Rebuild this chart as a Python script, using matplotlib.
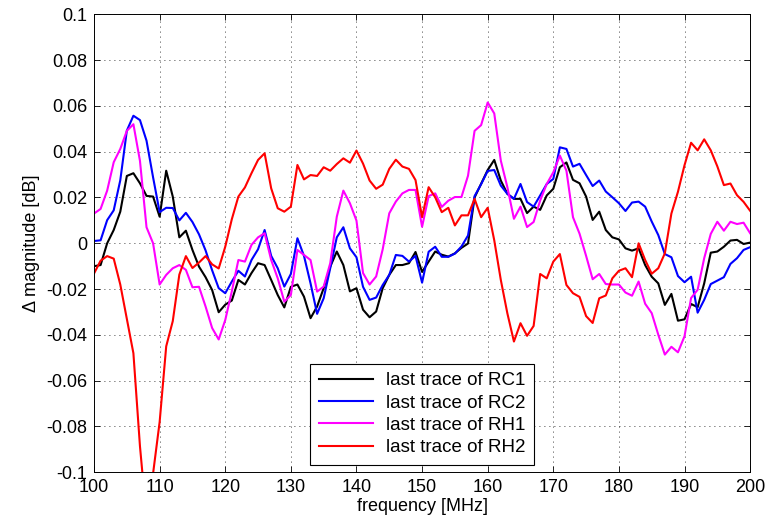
import numpy as np
import matplotlib
matplotlib.use('Agg')
import matplotlib.pyplot as plt
from matplotlib.ticker import FormatStrFormatter

# Frequency axis (1 MHz steps)
freq = np.arange(100, 201)

# Last traces, delta magnitude in dB
rc1 = [-0.010, -0.0095, 0.000, 0.0058, 0.0138, 0.0294, 0.0306, 0.0262, 0.0207, 0.0204,
       0.0116, 0.0317, 0.0204, 0.0026, 0.0055, -0.0029, -0.0102, -0.0148, -0.0204, -0.0301,
       -0.0268, -0.025, -0.016, -0.018, -0.013, -0.0087, -0.0095, -0.016, -0.0226, -0.028,
       -0.019, -0.018, -0.0233, -0.0327, -0.0276, -0.0196, -0.0102, -0.0036, -0.0095, -0.021,
       -0.0196, -0.029, -0.0323, -0.0298, -0.0196, -0.0138, -0.0095, -0.0095, -0.0087, -0.0038,
       -0.0125, -0.0080, -0.0036, -0.005, -0.0058, -0.0044, -0.002, -0.0001, 0.020, 0.026,
       0.032, 0.0364, 0.0274, 0.0216, 0.0194, 0.0194, 0.0132, 0.016, 0.0146, 0.0209,
       0.0238, 0.0332, 0.0353, 0.0277, 0.0262, 0.0204, 0.0102, 0.0138, 0.0058, 0.0026,
       0.0017, -0.0022, -0.0032, -0.0022, -0.0095, -0.0146, -0.0175, -0.0269, -0.0221, -0.0338,
       -0.0332, -0.0265, -0.0279, -0.0175, -0.0041, -0.0036, -0.0015, 0.0012, 0.0015, -0.0003,
       0.0003]

rc2 = [0.001, 0.0013, 0.0101, 0.0144, 0.0275, 0.0492, 0.0557, 0.0538, 0.0448, 0.0288,
       0.0136, 0.0155, 0.0154, 0.0100, 0.0133, 0.0093, 0.0039, -0.0031, -0.0118, -0.0196,
       -0.0218, -0.0167, -0.012, -0.0145, -0.0073, -0.0026, 0.0058, -0.0055, -0.0109, -0.0189,
       -0.0134, 0.0022, -0.0055, -0.0175, -0.0308, -0.024, -0.0109, 0.0026, 0.007, -0.0022,
       -0.0061, -0.019, -0.0247, -0.0237, -0.0182, -0.0138, -0.0051, -0.0055, -0.008, -0.0055,
       -0.0172, -0.0037, -0.0015, -0.0059, -0.0059, -0.0045, -0.0014, 0.0034, 0.0206, 0.0258,
       0.0316, 0.032, 0.0252, 0.0216, 0.0194, 0.0259, 0.018, 0.016, 0.0209, 0.0259,
       0.0281, 0.0419, 0.0412, 0.0335, 0.0347, 0.0298, 0.025, 0.0274, 0.0226, 0.0201,
       0.0175, 0.0141, 0.0178, 0.0182, 0.016, 0.0095, 0.0036, -0.0047, -0.0061, -0.0143,
       -0.017, -0.0146, -0.0303, -0.0247, -0.0178, -0.0163, -0.0148, -0.009, -0.0065, -0.0029,
       -0.0017]

rh1 = [0.013, 0.015, 0.023, 0.0354, 0.0412, 0.0491, 0.052, 0.036, 0.007, 0.0,
       -0.018, -0.0138, -0.0109, -0.0095, -0.0116, -0.0192, -0.019, -0.0276, -0.037, -0.042,
       -0.0335, -0.021, -0.0073, -0.008, -0.0007, 0.0026, 0.0044, -0.0073, -0.0153, -0.0255,
       -0.0226, -0.0029, -0.0051, -0.0073, -0.0211, -0.0189, -0.0087, 0.0116, 0.023, 0.0175,
       0.0099, -0.013, -0.018, -0.0145, -0.0026, 0.0131, 0.0182, 0.0218, 0.0233, 0.0233,
       0.0072, 0.0206, 0.0218, 0.0159, 0.0186, 0.0202, 0.0202, 0.0295, 0.0491, 0.0516,
       0.0615, 0.0567, 0.0361, 0.0245, 0.0107, 0.016, 0.0071, 0.0093, 0.0187, 0.0259,
       0.031, 0.0383, 0.0317, 0.0114, 0.0042, -0.0055, -0.0157, -0.0134, -0.0178, -0.018,
       -0.018, -0.0215, -0.0229, -0.0167, -0.0264, -0.0305, -0.0399, -0.0486, -0.0452, -0.0476,
       -0.0406, -0.0239, -0.0203, -0.0065, 0.0041, 0.0094, 0.0055, 0.0094, 0.0084, 0.009,
       0.0044]

rh2 = [-0.0132, -0.0076, -0.0056, -0.0067, -0.018, -0.033, -0.048, -0.0886, -0.12, -0.1005,
       -0.078, -0.045, -0.034, -0.0137, -0.0056, -0.0108, -0.0084, -0.0056, -0.0092, -0.011,
       -0.0015, 0.0105, 0.0204, 0.0244, 0.0306, 0.0364, 0.0393, 0.024, 0.0153, 0.0138,
       0.016, 0.0342, 0.0279, 0.0298, 0.0294, 0.0332, 0.0317, 0.0346, 0.0371, 0.0352,
       0.0405, 0.0348, 0.0274, 0.0238, 0.0256, 0.0325, 0.0365, 0.0335, 0.0325, 0.0276,
       0.0114, 0.0245, 0.0201, 0.0136, 0.0155, 0.0078, 0.0122, 0.0122, 0.0194, 0.0114,
       0.0155, 0.0013, -0.016, -0.0306, -0.0429, -0.0349, -0.0404, -0.0361, -0.0134, -0.0153,
       -0.008, -0.0047, -0.0182, -0.0218, -0.0234, -0.0318, -0.0348, -0.024, -0.0228, -0.0153,
       -0.012, -0.0109, -0.0148, 0.0, -0.0073, -0.0133, -0.0109, -0.0044, 0.013, 0.0225,
       0.0341, 0.0439, 0.0406, 0.0454, 0.0406, 0.0336, 0.0254, 0.0261, 0.021, 0.0181,
       0.0142]

labels = ['last trace of RC1', 'last trace of RC2', 'last trace of RH1', 'last trace of RH2']
colors = ['#000000', '#0000ff', '#ff00ff', '#ff0000']

plt.rcParams['font.family'] = ['Liberation Sans', 'DejaVu Sans']
plt.rcParams['font.size'] = 13

fig = plt.figure(figsize=(7.67, 5.27), dpi=100)
ax = fig.add_axes([0.1226, 0.1038, 0.8554, 0.8691])

for y, c, lab in zip([rc1, rc2, rh1, rh2], colors, labels):
    ax.plot(freq, y, color=c, linewidth=1.5, label=lab)

# MATLAB-like axes: box, inward ticks, dotted grid
ax.set_xlim(100, 200)
ax.set_ylim(-0.1, 0.1)
ax.set_xticks(np.arange(100, 201, 10))
ax.set_yticks(np.round(np.arange(-0.1, 0.1001, 0.02), 2))
ax.yaxis.set_major_formatter(FormatStrFormatter('%g'))
ax.tick_params(direction='in', top=True, right=True, length=4, width=0.6, labelsize=13, pad=5)
ax.grid(True, color='k', linestyle=(0, (1, 5)), linewidth=0.6)
for s in ax.spines.values():
    s.set_linewidth(0.7)

ax.set_xlabel('frequency [MHz]', fontsize=13, labelpad=1)
ax.set_ylabel('\u0394 magnitude [dB]', fontsize=13, labelpad=4)

leg = ax.legend(loc='lower center', fancybox=False, framealpha=1, edgecolor='k',
                handlelength=2.9, labelspacing=0.28, borderaxespad=0.4, fontsize=13.5,
                borderpad=0.45, handletextpad=0.7)
leg.get_frame().set_linewidth(0.8)

fig.savefig('out.png', dpi=100)
